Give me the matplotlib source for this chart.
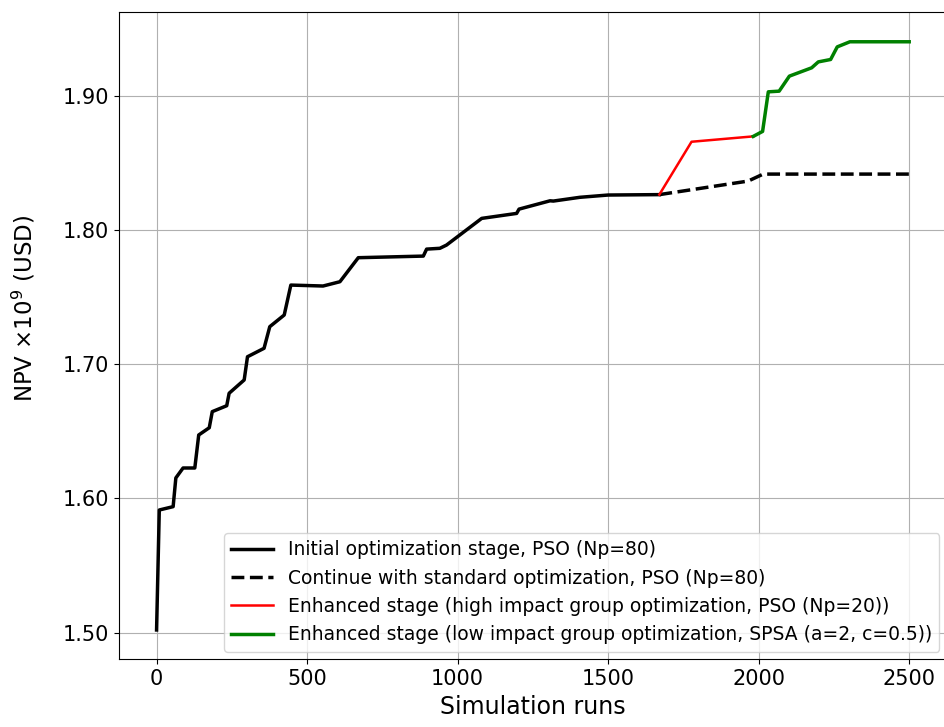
import matplotlib
matplotlib.use("Agg")
import matplotlib.pyplot as plt
from matplotlib.ticker import FormatStrFormatter

# Initial optimization stage (PSO, Np=80)
x_init = [0, 9, 55, 64, 88, 127, 140, 175, 185, 233, 241, 291, 302, 357, 376, 424,
          446, 553, 609, 670, 886, 897, 941, 963, 1080, 1196, 1204, 1307, 1318, 1406,
          1500, 1670]
y_init = [1.502, 1.5914, 1.5939, 1.6153, 1.6227, 1.6227, 1.6473, 1.6527, 1.6647, 1.6691,
          1.6784, 1.6883, 1.7056, 1.7119, 1.7280, 1.7367, 1.7590, 1.7583, 1.7615, 1.7794,
          1.7806, 1.7858, 1.7864, 1.7888, 1.8087, 1.8124, 1.8156, 1.8218, 1.8216, 1.8244,
          1.8261, 1.8264]

# Continue with standard optimization
x_std = [1670, 1965, 2015, 2500]
y_std = [1.8264, 1.8365, 1.8417, 1.8417]

# Enhanced stage, high impact group (PSO, Np=20)
x_high = [1670, 1777, 1982]
y_high = [1.8264, 1.8658, 1.8698]

# Enhanced stage, low impact group (SPSA)
x_low = [1982, 2013, 2032, 2068, 2102, 2176, 2198, 2239, 2261, 2303, 2500]
y_low = [1.8698, 1.8735, 1.9030, 1.9035, 1.9147, 1.9209, 1.9253, 1.9271, 1.9365,
         1.9403, 1.9403]

labels = ["Initial optimization stage, PSO (Np=80)",
          "Continue with standard optimization, PSO (Np=80)",
          "Enhanced stage (high impact group optimization, PSO (Np=20))",
          "Enhanced stage (low impact group optimization, SPSA (a=2, c=0.5))"]

fig, ax = plt.subplots(figsize=(9.44, 7.27), dpi=100)
fig.subplots_adjust(left=0.126, right=1.003, bottom=0.093, top=0.983)

ax.plot(x_init, y_init, color="black", lw=2.5, label=labels[0])
ax.plot(x_std, y_std, color="black", lw=2.5, ls="--", label=labels[1])
ax.plot(x_high, y_high, color="red", lw=1.8, label=labels[2])
ax.plot(x_low, y_low, color="green", lw=2.5, label=labels[3])

ax.set_yticks([1.5, 1.6, 1.7, 1.8, 1.9])
ax.yaxis.set_major_formatter(FormatStrFormatter("%.2f"))
ax.tick_params(labelsize=15)
ax.grid(True)

ax.set_xlabel("Simulation runs", fontsize=17)
ax.set_ylabel(r"NPV $\times$10$^9$ (USD)", fontsize=16.5)
ax.yaxis.set_label_coords(-0.098, 0.543)

ax.legend(loc="lower right", fontsize=13.5, handlelength=2.2, borderaxespad=0.4)

fig.savefig("out.png", dpi=100)
